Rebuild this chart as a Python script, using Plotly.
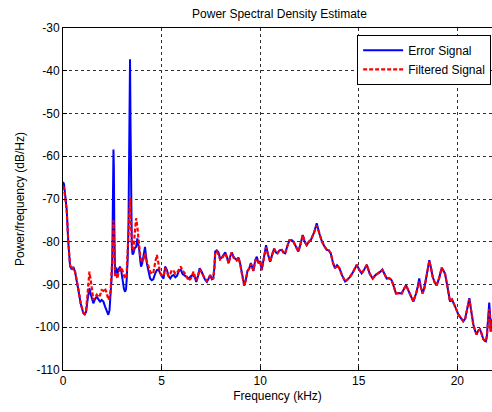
import plotly.graph_objects as go

freq_khz = [0.00, 0.05, 0.12, 0.19, 0.27, 0.36, 0.45, 0.52, 0.61, 0.70, 0.78, 0.90, 1.03, 1.10, 1.17, 1.25, 1.34, 1.42, 1.54, 1.62,
            1.71, 1.80, 1.88, 1.96, 2.05, 2.13, 2.22, 2.30, 2.36, 2.42, 2.47, 2.50, 2.54, 2.56, 2.58, 2.60, 2.64, 2.70, 2.76, 2.82,
            2.89, 2.96, 3.03, 3.09, 3.15, 3.20, 3.23, 3.28, 3.32, 3.36, 3.40, 3.43, 3.46, 3.49, 3.53, 3.57, 3.64, 3.71, 3.77, 3.82,
            3.87, 3.92, 3.96, 4.02, 4.08, 4.16, 4.25, 4.33, 4.42, 4.50, 4.58, 4.67, 4.76, 4.84, 4.92, 5.00, 5.10, 5.18, 5.27, 5.35,
            5.44, 5.52, 5.61, 5.70, 5.78, 5.88, 5.98, 6.06, 6.15, 6.26, 6.37, 6.50, 6.62, 6.70, 6.76, 6.85, 6.93, 7.01, 7.09, 7.20,
            7.30, 7.38, 7.47, 7.55, 7.62, 7.68, 7.72, 7.80, 7.89, 7.97, 8.06, 8.15, 8.23, 8.31, 8.40, 8.48, 8.56, 8.65, 8.73, 8.81,
            8.90, 8.98, 9.07, 9.13, 9.19, 9.27, 9.36, 9.45, 9.53, 9.60, 9.66, 9.75, 9.83, 9.92, 10.00, 10.08, 10.18, 10.30, 10.40, 10.51,
            10.61, 10.71, 10.80, 10.88, 10.98, 11.10, 11.18, 11.27, 11.38, 11.49, 11.59, 11.69, 11.80, 11.94, 12.05, 12.16, 12.26, 12.36, 12.47, 12.57,
            12.72, 12.87, 13.00, 13.13, 13.25, 13.38, 13.48, 13.58, 13.70, 13.80, 13.90, 14.02, 14.15, 14.31, 14.44, 14.56, 14.72, 14.90, 15.02, 15.15,
            15.28, 15.41, 15.56, 15.71, 15.85, 16.00, 16.10, 16.20, 16.31, 16.42, 16.55, 16.67, 16.78, 16.89, 17.03, 17.18, 17.30, 17.40, 17.50, 17.60,
            17.68, 17.77, 17.84, 17.91, 17.99, 18.07, 18.15, 18.24, 18.33, 18.41, 18.50, 18.58, 18.66, 18.75, 18.85, 18.95, 19.08, 19.21, 19.30, 19.38,
            19.50, 19.63, 19.73, 19.83, 19.95, 20.05, 20.18, 20.30, 20.40, 20.47, 20.54, 20.61, 20.70, 20.81, 20.90, 20.98, 21.06, 21.15, 21.23, 21.32,
            21.40, 21.45, 21.50, 21.54, 21.58, 21.62, 21.66, 21.69, 21.72, 21.75, 21.80]

error_signal = [-66.0, -66.5, -69.5, -72.6, -80.3, -85.8, -86.5, -85.9, -87.0, -89.0, -91.3, -94.5, -96.7, -97.0, -96.4, -93.5, -90.9, -92.5, -94.4, -93.5,
                -92.8, -93.5, -94.0, -93.6, -94.0, -95.1, -96.0, -97.1, -96.0, -92.0, -88.0, -83.5, -70.0, -58.4, -63.0, -75.0, -87.4, -86.0, -87.5, -86.5,
                -85.8, -87.0, -89.3, -91.0, -91.7, -91.0, -88.8, -84.0, -76.5, -60.0, -37.3, -55.0, -75.0, -81.2, -83.0, -82.7, -81.5, -81.2, -79.2, -80.5,
                -82.0, -84.5, -85.8, -85.0, -83.5, -81.2, -85.0, -87.0, -88.6, -89.0, -88.8, -87.5, -86.6, -86.5, -87.5, -88.0, -88.6, -85.8, -86.6, -88.0,
                -88.6, -88.0, -87.8, -88.3, -88.0, -86.8, -86.5, -87.5, -87.8, -88.2, -88.6, -88.0, -87.8, -88.5, -89.4, -88.0, -86.2, -86.8, -87.8, -88.8,
                -89.4, -88.5, -87.8, -88.8, -88.6, -86.0, -82.3, -82.0, -82.5, -84.0, -83.7, -83.0, -82.5, -83.5, -85.0, -83.5, -82.5, -83.5, -84.0, -84.2,
                -83.7, -85.0, -87.4, -89.0, -90.1, -89.0, -86.8, -86.2, -85.0, -86.0, -86.8, -84.3, -83.5, -85.0, -84.5, -86.6, -84.0, -80.8, -83.0, -84.7,
                -83.0, -81.6, -82.5, -82.7, -82.0, -81.9, -82.5, -82.7, -81.0, -79.6, -79.6, -80.0, -81.0, -82.3, -80.5, -78.4, -80.0, -80.8, -80.0, -79.6,
                -78.0, -75.7, -78.0, -79.9, -81.0, -81.9, -82.0, -82.7, -85.0, -86.2, -85.5, -86.2, -87.8, -89.3, -88.8, -88.2, -87.0, -85.4, -86.5, -87.4,
                -86.5, -85.4, -87.5, -88.6, -87.8, -87.4, -87.0, -86.5, -87.5, -88.6, -88.5, -89.0, -90.5, -92.1, -92.0, -92.1, -91.0, -90.2, -91.2, -92.1,
                -93.0, -94.0, -93.0, -92.1, -90.5, -88.6, -90.5, -92.1, -90.8, -89.0, -86.5, -84.3, -86.0, -88.2, -89.5, -90.2, -88.5, -86.1, -86.8, -87.5,
                -90.5, -94.0, -93.5, -94.4, -95.8, -97.0, -98.0, -98.6, -98.0, -96.3, -94.5, -93.2, -96.0, -99.3, -100.8, -101.7, -100.8, -100.5, -101.5, -102.8,
                -103.2, -103.3, -102.0, -99.3, -96.5, -94.2, -97.0, -101.0, -100.0, -98.5, -98.0]

filtered_signal = [-67.0, -67.5, -70.0, -73.0, -80.0, -85.5, -86.5, -86.0, -87.0, -89.0, -91.0, -94.5, -96.5, -96.8, -96.0, -92.0, -87.0, -89.5, -93.6, -93.0,
                   -92.4, -93.0, -92.5, -91.3, -91.5, -90.9, -92.0, -93.6, -93.0, -91.3, -87.5, -83.0, -80.0, -75.0, -78.0, -82.0, -88.0, -87.5, -88.6, -87.0,
                   -86.6, -86.0, -87.0, -88.0, -88.6, -88.3, -87.3, -82.0, -76.5, -73.0, -69.8, -74.0, -78.0, -80.0, -82.0, -82.0, -78.0, -74.5, -76.5, -79.5,
                   -81.5, -83.5, -84.2, -84.5, -84.2, -82.7, -84.5, -86.0, -87.0, -87.5, -87.3, -85.0, -83.1, -85.0, -87.2, -87.8, -88.0, -86.2, -87.0, -88.0,
                   -87.5, -86.6, -86.8, -87.5, -87.3, -86.5, -85.8, -86.8, -87.2, -88.0, -89.1, -88.5, -87.0, -88.2, -89.0, -88.0, -86.4, -87.0, -87.8, -88.6,
                   -89.2, -88.5, -87.8, -88.6, -88.6, -86.0, -82.6, -82.3, -83.0, -84.2, -84.0, -83.2, -82.7, -83.7, -85.0, -83.5, -82.5, -83.7, -84.0, -84.4,
                   -83.7, -85.0, -87.4, -89.0, -90.3, -89.0, -86.8, -86.2, -85.2, -86.0, -86.8, -84.5, -84.0, -85.0, -84.5, -86.6, -84.2, -81.3, -83.0, -84.7,
                   -83.0, -81.6, -82.5, -82.7, -82.0, -81.9, -82.5, -82.7, -81.0, -79.6, -79.6, -80.0, -81.0, -82.3, -80.5, -78.4, -80.0, -80.8, -80.0, -79.6,
                   -78.0, -76.2, -78.0, -79.9, -81.0, -81.9, -82.0, -82.7, -85.0, -86.2, -85.5, -86.2, -87.8, -89.3, -88.8, -88.2, -87.0, -85.4, -86.5, -87.4,
                   -86.5, -85.4, -87.5, -88.6, -87.8, -87.4, -87.0, -86.6, -87.5, -88.6, -88.5, -89.0, -90.5, -92.1, -92.0, -92.1, -91.0, -90.2, -91.2, -92.1,
                   -93.0, -94.0, -93.0, -92.1, -91.0, -89.3, -90.8, -92.1, -90.8, -89.0, -86.5, -84.5, -86.0, -88.2, -89.5, -90.2, -88.5, -86.1, -86.8, -87.5,
                   -90.5, -94.0, -93.5, -94.4, -95.8, -97.0, -98.0, -98.6, -98.0, -96.3, -94.5, -93.4, -96.0, -99.3, -100.8, -101.7, -100.8, -100.5, -101.5, -102.8,
                   -103.2, -103.3, -102.0, -99.3, -97.5, -95.7, -98.0, -101.0, -100.0, -98.5, -98.0]

x_ticks = [0, 5, 10, 15, 20]
y_ticks = [-30, -40, -50, -60, -70, -80, -90, -100, -110]

FONT = "Liberation Sans"

fig = go.Figure()
fig.add_trace(go.Scatter(x=freq_khz, y=error_signal, mode="lines", name="Error Signal",
                         line=dict(color="#0000ff", width=2)))
fig.add_trace(go.Scatter(x=freq_khz, y=filtered_signal, mode="lines", name="Filtered Signal",
                         line=dict(color="#ff0000", width=2.2, dash="4px,2px")))

axis_common = dict(showline=True, linecolor="black", linewidth=1, mirror=True,
                   ticks="inside", ticklen=4, tickcolor="black",
                   showgrid=True, gridcolor="#303030", gridwidth=1, griddash="3px,3px",
                   zeroline=False, automargin=False,
                   tickfont=dict(family=FONT, size=12, color="black"))

fig.update_xaxes(range=[0, 21.76], tickvals=x_ticks, ticktext=[str(t) for t in x_ticks],
                 title=dict(text="Frequency (kHz)", font=dict(family=FONT, size=12, color="black"), standoff=4),
                 **axis_common)
fig.update_yaxes(range=[-110, -30], tickvals=y_ticks, ticktext=[str(t) for t in y_ticks],
                 title=dict(text="Power/frequency (dB/Hz)", font=dict(family=FONT, size=12, color="black"), standoff=8),
                 **axis_common)

fig.update_layout(
    width=492, height=412,
    margin=dict(l=63, r=0, t=28, b=42, autoexpand=False),
    paper_bgcolor="white", plot_bgcolor="white",
    title=dict(text="Power Spectral Density Estimate", x=0.568, xanchor="center", y=0.967, yanchor="middle",
               font=dict(family=FONT, size=12, color="black")),
    showlegend=True,
    legend=dict(x=0.998, y=0.98, xanchor="right", yanchor="top", bgcolor="white",
                bordercolor="black", borderwidth=1, font=dict(family=FONT, size=12, color="black"),
                tracegroupgap=0, itemwidth=40),
)

fig.write_html("out.html", config={"displayModeBar": False},
               post_script="document.body.style.margin='0';document.body.style.overflow='hidden';")
